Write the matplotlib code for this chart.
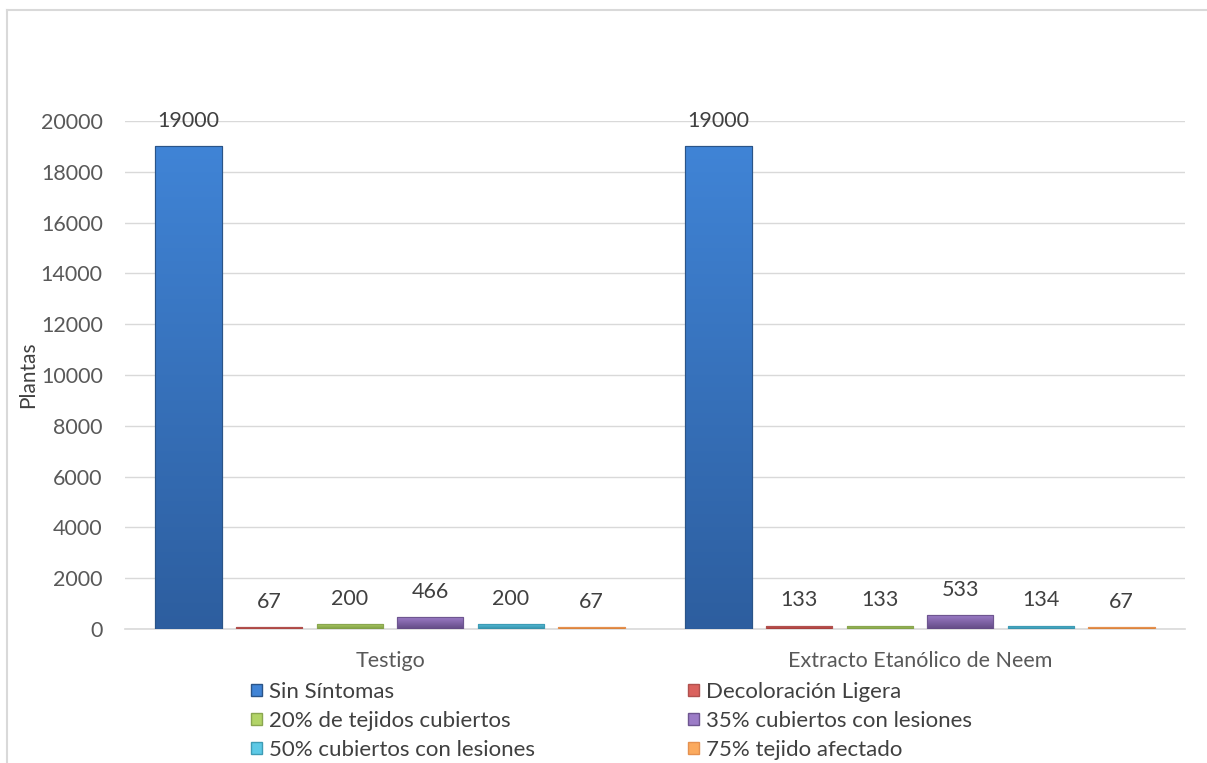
import numpy as np
import matplotlib.pyplot as plt
from matplotlib.colors import LinearSegmentedColormap
from matplotlib.lines import Line2D
from matplotlib.patches import Rectangle

plt.rcParams['font.family'] = ['Lato', 'DejaVu Sans']

# Data
grupos = ['Testigo', 'Extracto Etanólico de Neem']
series = ['Sin Síntomas', 'Decoloración Ligera', '20% de tejidos cubiertos',
          '35% cubiertos con lesiones', '50% cubiertos con lesiones', '75% tejido afectado']
valores = [
    [19000, 19000],  # Sin Síntomas
    [67, 133],       # Decoloración Ligera
    [200, 133],      # 20% de tejidos cubiertos
    [466, 533],      # 35% cubiertos con lesiones
    [200, 134],      # 50% cubiertos con lesiones
    [67, 67],        # 75% tejido afectado
]
yticks = [0, 2000, 4000, 6000, 8000, 10000, 12000, 14000, 16000, 18000, 20000]

# colours: (top, bottom) of the gradient
colores = [
    ('#4084D6', '#2D5E9F'),
    ('#DA625E', '#A33D3A'),
    ('#B2D467', '#7E9C44'),
    ('#9C7CC7', '#624A84'),
    ('#5DC9E6', '#348EA7'),
    ('#FBAA5E', '#D07630'),
]
bordes = ['#2A5488', '#B0514E', '#8AA650', '#6E5690', '#3E9CB5', '#E59150']

fig = plt.figure(figsize=(12.07, 7.63), dpi=100)
ax = fig.add_axes([125 / 1207, 1 - 629 / 763, 1060 / 1207, 508 / 763])

x = np.arange(len(grupos))
paso = 0.152
ancho = 0.125
grad = np.linspace(0, 1, 256).reshape(-1, 1)

handles = []
for i, (nombre, vals) in enumerate(zip(series, valores)):
    pos = x + (i - (len(series) - 1) / 2) * paso
    top, bot = colores[i]
    bars = ax.bar(pos, vals, width=ancho, color=top, edgecolor=bordes[i],
                  linewidth=0.8, zorder=3, label=nombre)
    cmap = LinearSegmentedColormap.from_list('g%d' % i, [top, bot])
    for b in bars:
        im = ax.imshow(grad, cmap=cmap, aspect='auto', zorder=3.5,
                       extent=[b.get_x(), b.get_x() + b.get_width(), 0, b.get_height()],
                       origin='upper')
        im.set_clip_path(b)
        ax.bar(b.get_x() + b.get_width() / 2, b.get_height(), width=b.get_width(),
               fill=False, edgecolor=bordes[i], linewidth=0.8, zorder=4)
    for p, v in zip(pos, vals):
        ax.annotate(str(v), (p, v), xytext=(0, 11), textcoords='offset points',
                    ha='center', va='bottom', fontsize=15.5, color='#404040')
    handles.append(Rectangle((0, 0), 1, 1, facecolor=top, edgecolor=bordes[i], linewidth=1))

ax.set_xlim(-0.5, 1.5)
ax.set_ylim(0, 20000)
ax.set_yticks(yticks)
ax.set_xticks(x)
ax.set_xticklabels(grupos)
ax.tick_params(axis='both', length=0, labelsize=15.5, colors='#595959')
ax.tick_params(axis='x', pad=16)
ax.tick_params(axis='y', pad=16)
ax.yaxis.grid(True, color='#D9D9D9', linewidth=1)
ax.set_axisbelow(True)
for s in ['top', 'right', 'left']:
    ax.spines[s].set_visible(False)
ax.spines['bottom'].set_color('#D9D9D9')
ax.spines['bottom'].set_linewidth(1.2)
ax.set_ylabel('Plantas', fontsize=15, color='#404040', labelpad=2)

orden = [0, 2, 4, 1, 3, 5]
fig.legend([handles[k] for k in orden], [series[k] for k in orden], ncol=2,
           loc='upper left', bbox_to_anchor=(251 / 1207, 1 - 682 / 763),
           frameon=False, fontsize=16, labelcolor='#404040',
           handlelength=0.5, handleheight=0.5, handletextpad=0.3,
           columnspacing=6.9, labelspacing=0.4, borderpad=0, borderaxespad=0)

# chart border (only top and left edges visible)
fig.add_artist(Line2D([7 / 1207, 1], [1 - 10 / 763, 1 - 10 / 763],
                      color='#D9D9D9', linewidth=1.5, transform=fig.transFigure))
fig.add_artist(Line2D([7 / 1207, 7 / 1207], [0, 1 - 10 / 763],
                      color='#D9D9D9', linewidth=1.5, transform=fig.transFigure))

fig.savefig('out.png', dpi=100)
